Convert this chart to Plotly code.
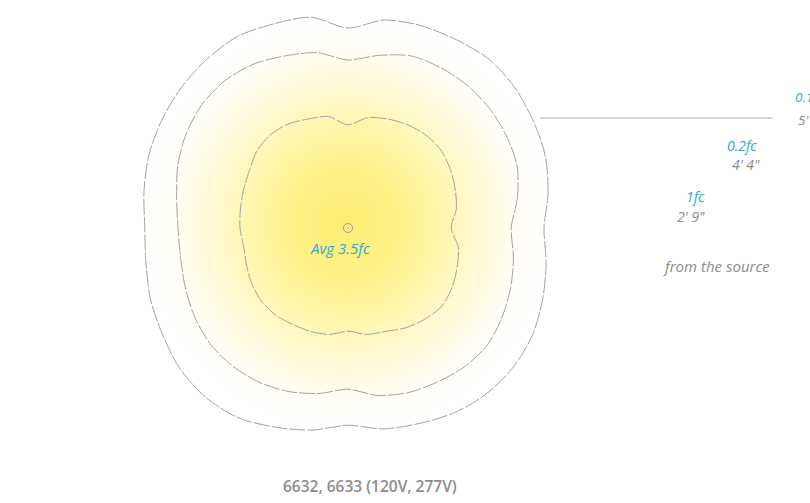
import numpy as np
import plotly.graph_objects as go

# Iso-footcandle contours, radius in feet sampled every 10 degrees (0 = east, counter-clockwise)
ANGLES_DEG = list(range(0, 360, 10))
R_1FC = [2.58, 2.75, 2.85, 2.95, 3.03, 3.03, 2.98, 2.90, 2.80, 2.58, 2.83, 2.90,
         3.00, 3.03, 2.98, 2.85, 2.78, 2.73, 2.70, 2.65, 2.70, 2.78, 2.83, 2.83,
         2.78, 2.75, 2.70, 2.58, 2.70, 2.75, 2.88, 2.98, 3.05, 3.00, 2.90, 2.80]
R_02FC = [4.08, 4.30, 4.50, 4.58, 4.63, 4.65, 4.63, 4.58, 4.38, 4.20, 4.45, 4.58,
          4.73, 4.80, 4.78, 4.68, 4.53, 4.35, 4.25, 4.25, 4.33, 4.43, 4.50, 4.50,
          4.45, 4.35, 4.20, 4.03, 4.25, 4.38, 4.45, 4.53, 4.55, 4.45, 4.33, 4.20]
R_01FC = [4.90, 5.08, 5.25, 5.35, 5.45, 5.50, 5.43, 5.38, 5.28, 5.00, 5.35, 5.43,
          5.53, 5.50, 5.45, 5.38, 5.30, 5.18, 5.08, 5.13, 5.25, 5.35, 5.48, 5.53,
          5.48, 5.30, 5.13, 4.93, 5.10, 5.20, 5.33, 5.40, 5.40, 5.33, 5.18, 5.03]

LEVEL_LABELS = ["1fc", "0.2fc", "0.1fc"]
DISTANCE_LABELS = ["2' 9\"", "4' 4\"", "5'"]
AVERAGE_LABEL = "Avg 3.5fc"
NOTE_LABEL = "from the source"
CAPTION = "6632, 6633 (120V, 277V)"

BLUE = "#2ea8d6"
GRAY_TEXT = "#8c8c8c"
LINE_GRAY = "#a2a2a2"


def closed_xy(radii):
    theta = np.deg2rad(ANGLES_DEG + [ANGLES_DEG[0]])
    r = np.array(radii + [radii[0]])
    return r * np.cos(theta), r * np.sin(theta)


fig = go.Figure()

# soft yellow light pool inside the outermost contour
ox, oy = closed_xy(R_01FC)
fig.add_trace(go.Scatter(
    x=ox, y=oy, mode="lines", line=dict(width=0, shape="spline", smoothing=0.8),
    fill="toself",
    fillgradient=dict(type="radial", colorscale=[
        [0.0, "#fcee72"], [0.25, "#fdf186"], [0.5, "#fef6b0"],
        [0.72, "#fffbe0"], [0.86, "#fffef6"], [1.0, "#ffffff"]]),
    hoverinfo="skip", showlegend=False))

for radii in (R_1FC, R_02FC, R_01FC):
    x, y = closed_xy(radii)
    fig.add_trace(go.Scatter(
        x=x, y=y, mode="lines",
        line=dict(color=LINE_GRAY, width=1, dash="16px,2px", shape="spline", smoothing=0.8),
        hoverinfo="skip", showlegend=False))

# fixture position
fig.add_trace(go.Scatter(
    x=[0], y=[0], mode="markers",
    marker=dict(symbol="circle-open-dot", size=9, color="#a0a0a0", line=dict(width=1)),
    hoverinfo="skip", showlegend=False))

# leader line from the outer contour towards the labels
fig.add_shape(type="line", x0=4.8, x1=10.62, y0=2.75, y1=2.75,
              line=dict(color="#b0b0b0", width=1.2))

FONT = "Open Sans"


def label(x, y, text, color, anchor="center", size=14, italic=True, weight="normal"):
    fig.add_annotation(
        x=x, y=y, text=text, showarrow=False, xanchor=anchor, yanchor="middle",
        font=dict(family=FONT, size=size, color=color, weight=weight,
                  style="italic" if italic else "normal"))


label(-0.2, -0.5, AVERAGE_LABEL, BLUE, size=15)

# level / distance pairs on the right
label(11.12, 3.27, LEVEL_LABELS[2], BLUE, anchor="left", size=13.5)
label(11.2, 2.71, DISTANCE_LABELS[2], GRAY_TEXT, anchor="left", size=13.5)
label(10.27, 2.07, LEVEL_LABELS[1], BLUE, anchor="right")
label(10.35, 1.6, DISTANCE_LABELS[1], GRAY_TEXT, anchor="right")
label(8.98, 0.8, LEVEL_LABELS[0], BLUE, anchor="right")
label(8.98, 0.3, DISTANCE_LABELS[0], GRAY_TEXT, anchor="right")
label(9.2, -0.95, NOTE_LABEL, GRAY_TEXT, size=15)

label(0.55, -6.45, CAPTION, GRAY_TEXT, size=15.5, italic=False, weight=600)

fig.update_xaxes(range=[-8.7, 11.55], visible=False, fixedrange=True)
fig.update_yaxes(range=[-6.875, 5.7], visible=False, fixedrange=True)
fig.update_layout(
    width=810, height=503, margin=dict(l=0, r=0, t=0, b=0),
    paper_bgcolor="white", plot_bgcolor="white", showlegend=False)

fig.write_html("out.html")
